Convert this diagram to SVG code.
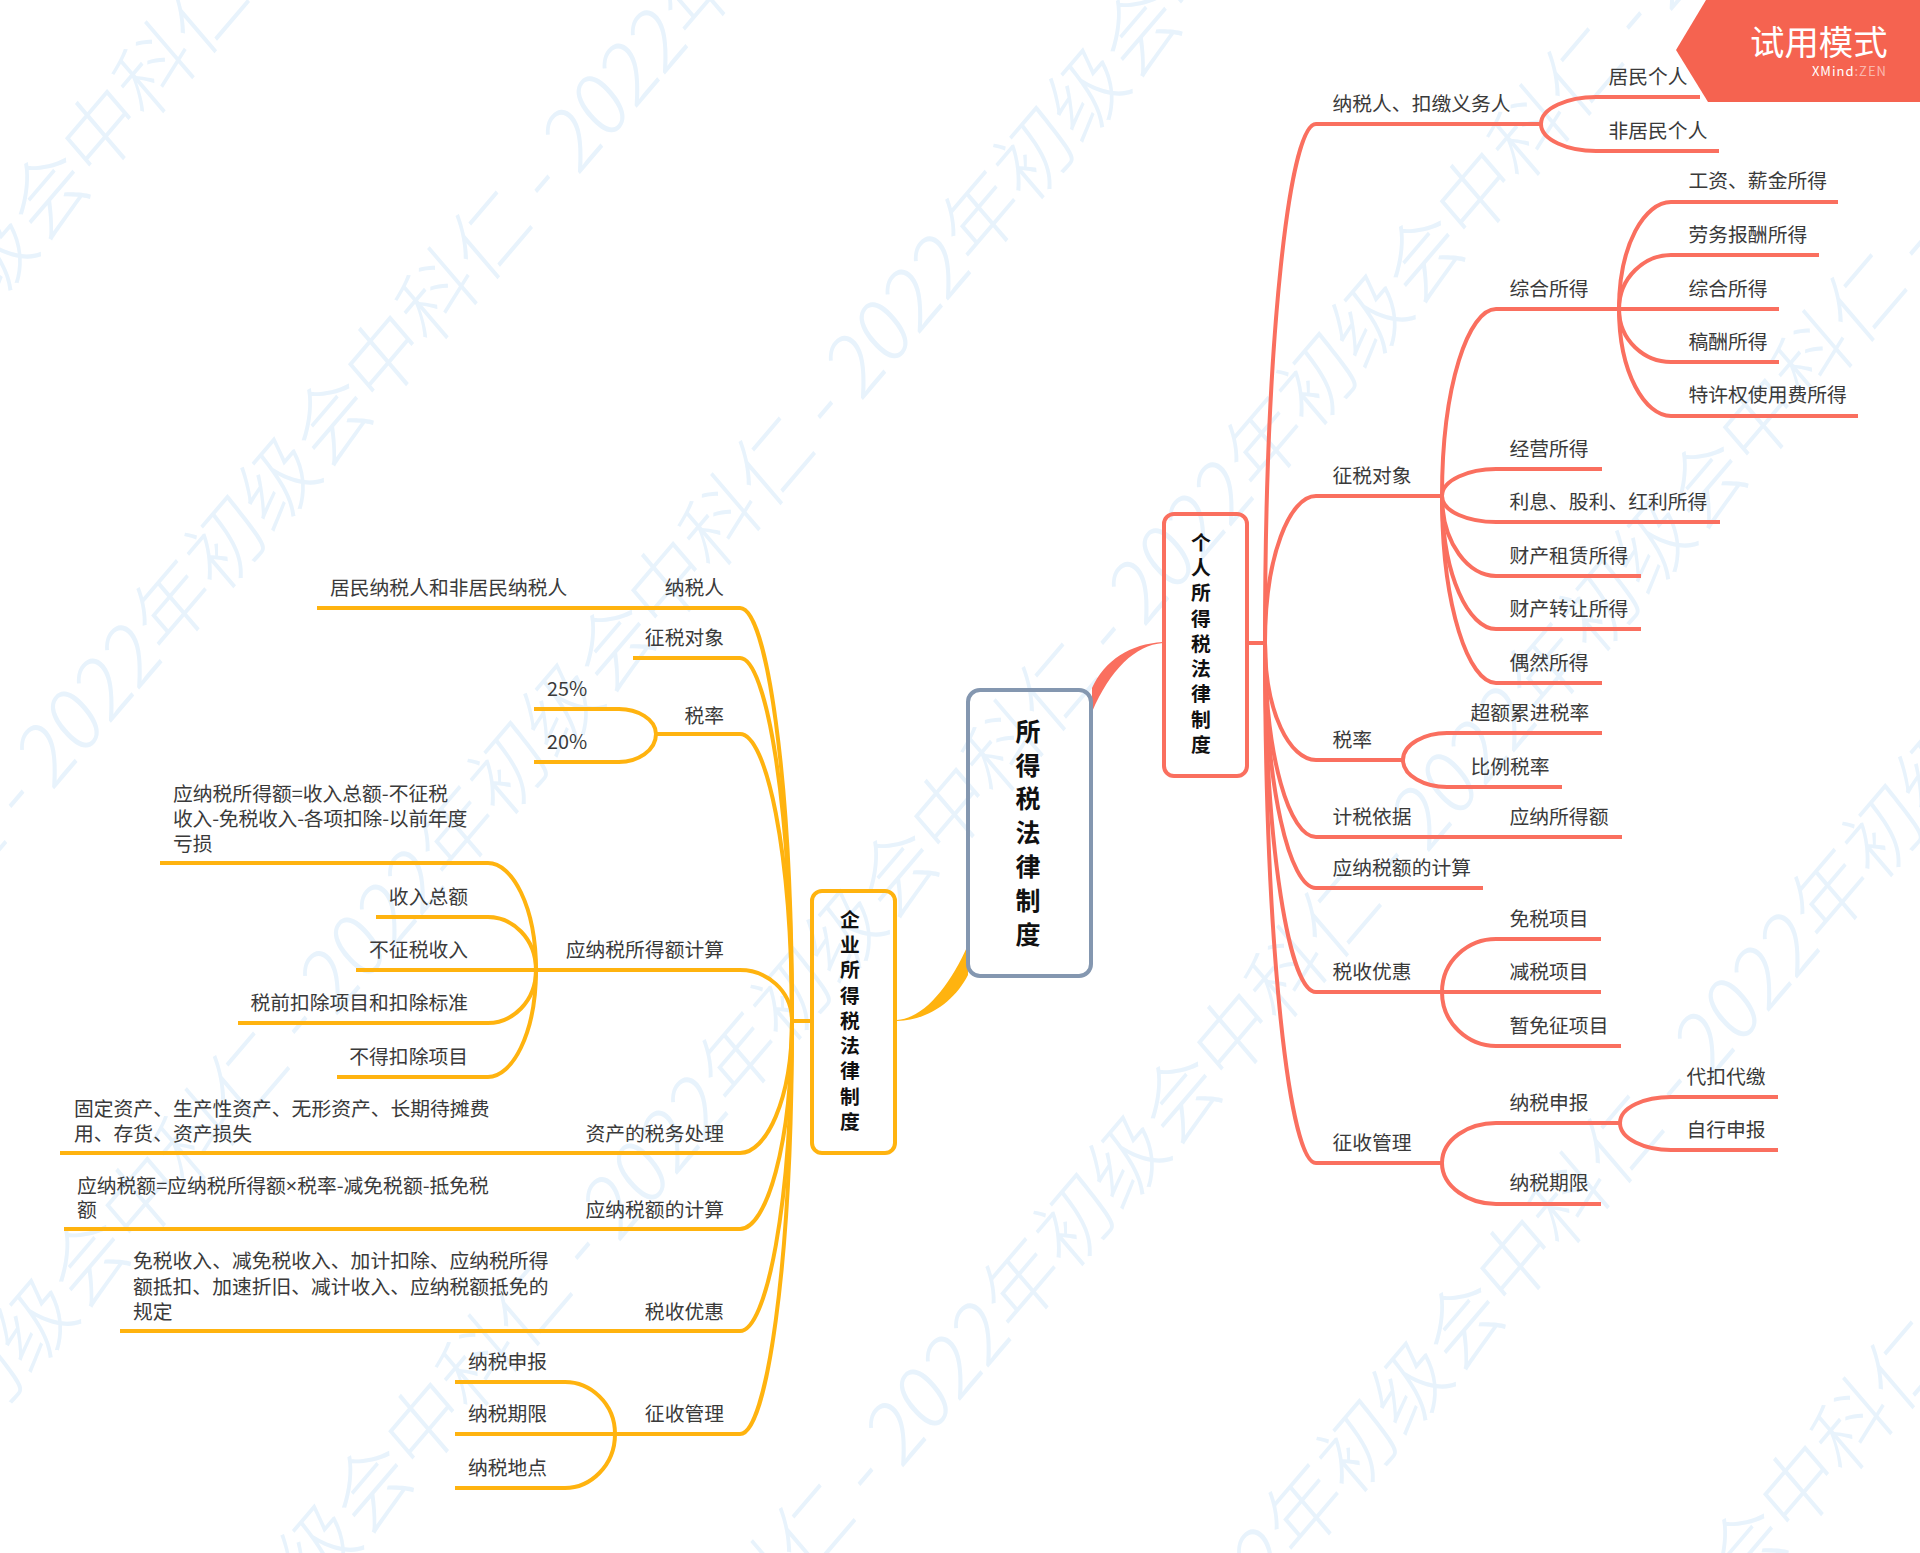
<svg xmlns="http://www.w3.org/2000/svg" width="1920" height="1553" viewBox="0 0 1920 1553">
<style>
text{font-family:"Noto Sans CJK SC","Noto Sans",sans-serif;font-size:19.8px;fill:#3a3a3a}
.e{text-anchor:end}
.wm{font-size:75px;fill:#e8f3fc;font-weight:300}
.b{font-weight:700;fill:#111;text-anchor:middle}
.r,.o{fill:none;stroke-width:4;stroke-linecap:butt}
.r{stroke:#fa6f5f}
.o{stroke:#ffb30f}
</style>
<rect width="1920" height="1553" fill="#fff"/>
<g id="watermark" xml:space="preserve">
<text class="wm" transform="translate(-757 1181) scale(1 1.17) rotate(-45)">2022年初级会中科仁 - 2022年初级会中科仁 - 2022年初级会中科仁 - 2022年初级会中科仁 - </text>
<text class="wm" transform="translate(-474 1407) scale(1 1.17) rotate(-45)">2022年初级会中科仁 - 2022年初级会中科仁 - 2022年初级会中科仁 - 2022年初级会中科仁 - </text>
<text class="wm" transform="translate(-191 1633) scale(1 1.17) rotate(-45)">2022年初级会中科仁 - 2022年初级会中科仁 - 2022年初级会中科仁 - 2022年初级会中科仁 - </text>
<text class="wm" transform="translate(92 1859) scale(1 1.17) rotate(-45)">2022年初级会中科仁 - 2022年初级会中科仁 - 2022年初级会中科仁 - 2022年初级会中科仁 - </text>
<text class="wm" transform="translate(375 2085) scale(1 1.17) rotate(-45)">2022年初级会中科仁 - 2022年初级会中科仁 - 2022年初级会中科仁 - 2022年初级会中科仁 - </text>
<text class="wm" transform="translate(658 2311) scale(1 1.17) rotate(-45)">2022年初级会中科仁 - 2022年初级会中科仁 - 2022年初级会中科仁 - 2022年初级会中科仁 - </text>
<text class="wm" transform="translate(941 2537) scale(1 1.17) rotate(-45)">2022年初级会中科仁 - 2022年初级会中科仁 - 2022年初级会中科仁 - 2022年初级会中科仁 - </text>
</g>
<g id="connectors">
<path d="M1092 712C1110 670 1135 645 1163 643L1163 642C1130 644 1105 660 1092 688Z" fill="#fa6f5f"/>
<path d="M968 945C950 985 925 1018 897 1020L897 1021C930 1020 955 1000 968 975Z" fill="#ffb30f"/>
<g>
<path class="r" d="M1247 643H1265"/>
<path class="r" d="M1265 643C1265 332 1290 124 1316 124L1541 124"/>
<path class="r" d="M1265 643C1265 555 1290 496 1316 496L1442 496"/>
<path class="r" d="M1265 643C1265 713 1290 760 1316 760L1403 760"/>
<path class="r" d="M1265 643C1265 759 1290 837 1316 837L1622 837"/>
<path class="r" d="M1265 643C1265 790 1290 888 1316 888L1483 888"/>
<path class="r" d="M1265 643C1265 852 1290 992 1316 992L1442 992"/>
<path class="r" d="M1265 643C1265 955 1290 1163 1316 1163L1442 1163"/>
<path class="r" d="M1541 124C1541 108 1568 97 1596 97L1700 97"/>
<path class="r" d="M1541 124C1541 140 1568 151 1596 151L1719 151"/>
<path class="r" d="M1442 496C1442 384 1469 309 1496 309L1619 309"/>
<path class="r" d="M1442 496C1442 480 1469 469 1496 469L1602 469"/>
<path class="r" d="M1442 496C1442 512 1469 522 1496 522L1720 522"/>
<path class="r" d="M1442 496C1442 544 1469 576 1496 576L1641 576"/>
<path class="r" d="M1442 496C1442 576 1469 629 1496 629L1641 629"/>
<path class="r" d="M1442 496C1442 608 1469 683 1496 683L1602 683"/>
<path class="r" d="M1619 309C1619 244 1645 202 1671 202L1838 202"/>
<path class="r" d="M1619 309C1619 277 1645 255 1671 255L1819 255"/>
<path class="r" d="M1619 309L1779 309"/>
<path class="r" d="M1619 309C1619 341 1645 362 1671 362L1779 362"/>
<path class="r" d="M1619 309C1619 373 1645 416 1671 416L1858 416"/>
<path class="r" d="M1403 760C1403 744 1425 733 1447 733L1602 733"/>
<path class="r" d="M1403 760C1403 776 1425 787 1447 787L1562 787"/>
<path class="r" d="M1442 992C1442 960 1469 939 1496 939L1601 939"/>
<path class="r" d="M1442 992L1601 992"/>
<path class="r" d="M1442 992C1442 1024 1469 1046 1496 1046L1621 1046"/>
<path class="r" d="M1442 1163C1442 1139 1469 1123 1496 1123L1620 1123"/>
<path class="r" d="M1442 1163C1442 1187 1469 1204 1496 1204L1601 1204"/>
<path class="r" d="M1620 1123C1620 1107 1645 1097 1671 1097L1778 1097"/>
<path class="r" d="M1620 1123C1620 1139 1645 1150 1671 1150L1778 1150"/>
</g>
<g>
<path class="o" d="M812 1021H792"/>
<path class="o" d="M792 1021C792 773 766 608 740 608L317 608"/>
<path class="o" d="M792 1021C792 803 766 658 740 658L633 658"/>
<path class="o" d="M792 1021C792 849 766 734 740 734L656 734"/>
<path class="o" d="M792 1021C792 990 766 970 740 970L356 970"/>
<path class="o" d="M792 1021C792 1100 766 1153 740 1153L60 1153"/>
<path class="o" d="M792 1021C792 1146 766 1229 740 1229L64 1229"/>
<path class="o" d="M792 1021C792 1207 766 1331 740 1331L120 1331"/>
<path class="o" d="M792 1021C792 1269 766 1434 740 1434L455 1434"/>
<path class="o" d="M656 734C656 719 637 709 619 709L534 709"/>
<path class="o" d="M656 734C656 751 637 762 619 762L534 762"/>
<path class="o" d="M536 970C536 906 512 863 488 863L160 863"/>
<path class="o" d="M536 970C536 938 512 917 488 917L376 917"/>
<path class="o" d="M536 970C536 1002 512 1023 488 1023L238 1023"/>
<path class="o" d="M536 970C536 1034 512 1077 488 1077L337 1077"/>
<path class="o" d="M615 1434C615 1403 590 1382 565 1382L455 1382"/>
<path class="o" d="M615 1434C615 1466 590 1488 565 1488L455 1488"/>
</g>
</g>
<g id="root">
<rect x="968" y="690" width="123" height="286" rx="12" fill="none" stroke="#8497b0" stroke-width="4"/>
<text class="b" style="font-size:25px"><tspan x="1028" y="741">所</tspan><tspan x="1028" y="775">得</tspan><tspan x="1028" y="808">税</tspan><tspan x="1028" y="842">法</tspan><tspan x="1028" y="876">律</tspan><tspan x="1028" y="910">制</tspan><tspan x="1028" y="944">度</tspan></text>
</g>
<g id="personal">
<rect x="1164" y="514" width="83" height="262" rx="10" fill="none" stroke="#fa6f5f" stroke-width="4"/>
<text class="b"><tspan x="1201" y="550">个</tspan><tspan x="1201" y="575">人</tspan><tspan x="1201" y="600">所</tspan><tspan x="1201" y="626">得</tspan><tspan x="1201" y="651">税</tspan><tspan x="1201" y="676">法</tspan><tspan x="1201" y="701">律</tspan><tspan x="1201" y="727">制</tspan><tspan x="1201" y="752">度</tspan></text>
</g>
<g id="enterprise">
<rect x="812" y="891" width="83" height="262" rx="10" fill="none" stroke="#ffb30f" stroke-width="4"/>
<text class="b"><tspan x="850" y="927">企</tspan><tspan x="850" y="952">业</tspan><tspan x="850" y="977">所</tspan><tspan x="850" y="1003">得</tspan><tspan x="850" y="1028">税</tspan><tspan x="850" y="1053">法</tspan><tspan x="850" y="1078">律</tspan><tspan x="850" y="1104">制</tspan><tspan x="850" y="1129">度</tspan></text>
</g>
<g id="personal-topics" transform="translate(-.5 1)">
<text x="1333" y="110">纳税人、扣缴义务人</text>
<text x="1609" y="83">居民个人</text>
<text x="1609" y="137">非居民个人</text>
<text x="1510" y="295">综合所得</text>
<text x="1689" y="187">工资、薪金所得</text>
<text x="1689" y="241">劳务报酬所得</text>
<text x="1689" y="295">综合所得</text>
<text x="1689" y="348">稿酬所得</text>
<text x="1689" y="401">特许权使用费所得</text>
<text x="1333" y="482">征税对象</text>
<text x="1510" y="455">经营所得</text>
<text x="1510" y="508">利息、股利、红利所得</text>
<text x="1510" y="562">财产租赁所得</text>
<text x="1510" y="615">财产转让所得</text>
<text x="1510" y="669">偶然所得</text>
<text x="1333" y="746">税率</text>
<text x="1471" y="719">超额累进税率</text>
<text x="1471" y="773">比例税率</text>
<text x="1333" y="823">计税依据</text>
<text x="1510" y="823">应纳所得额</text>
<text x="1333" y="874">应纳税额的计算</text>
<text x="1333" y="978">税收优惠</text>
<text x="1510" y="925">免税项目</text>
<text x="1510" y="978">减税项目</text>
<text x="1510" y="1032">暂免征项目</text>
<text x="1333" y="1149">征收管理</text>
<text x="1510" y="1109">纳税申报</text>
<text x="1510" y="1189">纳税期限</text>
<text x="1687" y="1083">代扣代缴</text>
<text x="1687" y="1136">自行申报</text>
</g>
<g id="enterprise-topics" transform="translate(0 1)">
<text class="e" x="724" y="594">纳税人</text>
<text x="330" y="594">居民纳税人和非居民纳税人</text>
<text class="e" x="724" y="644">征税对象</text>
<text class="e" x="724" y="722">税率</text>
<text x="547" y="695">25%</text>
<text x="547" y="748">20%</text>
<text x="173" y="800">应纳税所得额=收入总额-不征税</text>
<text x="173" y="825" style="letter-spacing:-.2px">收入-免税收入-各项扣除-以前年度</text>
<text x="173" y="850">亏损</text>
<text class="e" x="468" y="903">收入总额</text>
<text class="e" x="468" y="956">不征税收入</text>
<text class="e" x="468" y="1009">税前扣除项目和扣除标准</text>
<text class="e" x="468" y="1063">不得扣除项目</text>
<text class="e" x="724" y="956">应纳税所得额计算</text>
<text x="74" y="1115">固定资产、生产性资产、无形资产、长期待摊费</text>
<text x="74" y="1140">用、存货、资产损失</text>
<text class="e" x="724" y="1140">资产的税务处理</text>
<text x="77" y="1192">应纳税额=应纳税所得额<tspan style="font-family:'Noto Sans',sans-serif">×</tspan>税率-减免税额-抵免税</text>
<text x="77" y="1216">额</text>
<text class="e" x="724" y="1216">应纳税额的计算</text>
<text x="133" y="1267">免税收入、减免税收入、加计扣除、应纳税所得</text>
<text x="133" y="1293">额抵扣、加速折旧、减计收入、应纳税额抵免的</text>
<text x="133" y="1318">规定</text>
<text class="e" x="724" y="1318">税收优惠</text>
<text x="468" y="1368">纳税申报</text>
<text x="468" y="1420">纳税期限</text>
<text x="468" y="1474">纳税地点</text>
<text class="e" x="724" y="1420">征收管理</text>
</g>
<g id="trial-badge">
<path d="M1706 0H1920V102H1708L1676 50Z" fill="#f56350"/>
<text x="1750" y="55" style="font-size:34.4px;fill:#fff">试用模式</text>
<text x="1887" y="76" style="font-size:13px;fill:#fff;letter-spacing:1px;text-anchor:end">XMind<tspan fill-opacity=".55">:ZEN</tspan></text>
</g>
</svg>
